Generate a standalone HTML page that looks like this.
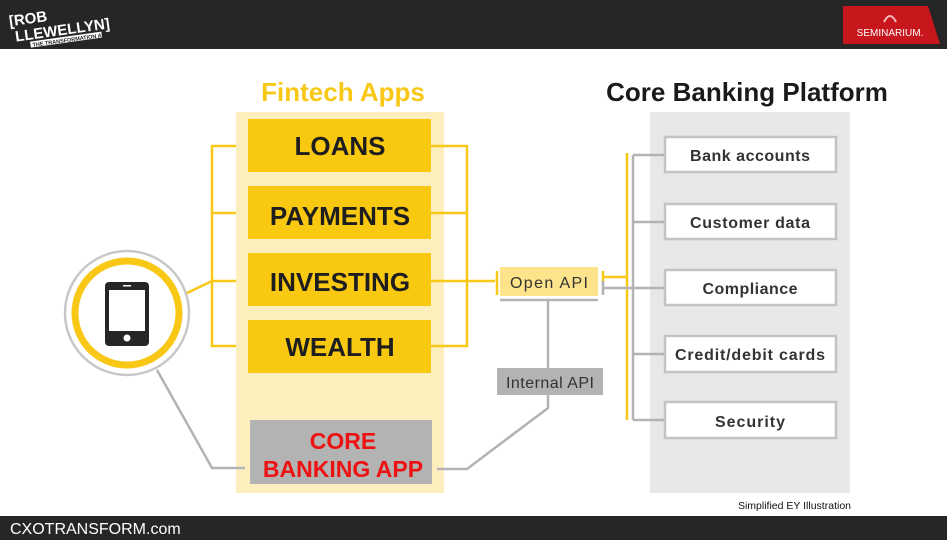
<!DOCTYPE html>
<html><head><meta charset="utf-8"><style>
html,body{margin:0;padding:0;background:#fff;}
body{width:947px;height:540px;overflow:hidden;position:relative;font-family:"Liberation Sans",sans-serif;}
</style></head><body>
<svg width="947" height="540" viewBox="0 0 947 540" xmlns="http://www.w3.org/2000/svg" style="position:absolute;left:0;top:0">
<rect x="0" y="0" width="947" height="49" fill="#262626"/>
<g transform="rotate(-8 55 25)" fill="#fff" font-family="Liberation Sans" font-weight="bold">
<text x="10" y="20" font-size="15">[ROB</text>
<text x="14" y="36" font-size="15">LLEWELLYN]</text>
<rect x="28" y="38" width="72" height="6" fill="#fff"/>
<text x="30" y="43.5" font-size="5.5" fill="#262626">THE TRANSFORMATION ADVISOR</text>
</g>
<polygon points="843,6 928,6 940,44 843,44" fill="#c8161d"/>
<path d="M884,22 Q890,10 896,22" stroke="#f3b8b8" stroke-width="2" fill="none"/>
<text x="890" y="36" font-size="10" fill="#fff" text-anchor="middle" font-family="Liberation Sans">SEMINARIUM.</text>

<text x="343" y="101" font-size="26" font-weight="bold" fill="#f9c817" text-anchor="middle">Fintech Apps</text>
<text x="747" y="101" font-size="26" font-weight="bold" fill="#1a1a1a" text-anchor="middle">Core Banking Platform</text>

<rect x="236" y="112" width="208" height="381" fill="#fdefbd"/>
<rect x="650" y="112" width="200" height="381" fill="#e8e8ea"/>

<g stroke="#f9c817" stroke-width="2.5" fill="none">
<path d="M236,146 H212 V346 H236 M212,213 H236 M212,281 H236 M212,281 L187,293"/>
<path d="M431,146 H467 V346 H431 M431,213 H467 M431,281 H495"/>
<path d="M497,271 V295 M603,271 V283 M603,277 H627 M627,153 V420"/>
</g>
<g stroke="#b3b3b3" stroke-width="2.5" fill="none">
<path d="M157,370 L212,468 H245"/>
<path d="M500,300 H598 M548,300 V370 M548,395 V408 L467,469 H437"/>
<path d="M603,281 V295 M603,288 H665 M633,155 V420 M633,155 H665 M633,222 H665 M633,354 H665 M633,420 H665"/>
</g>

<circle cx="127" cy="313" r="62" fill="#fff" stroke="#c8c8c8" stroke-width="2.5"/>
<circle cx="127" cy="313" r="52" fill="#fff" stroke="#f9c817" stroke-width="7"/>
<rect x="105" y="282" width="44" height="64" rx="4" fill="#262626"/>
<rect x="109" y="290" width="36" height="41" fill="#fff"/>
<circle cx="127" cy="338" r="3.5" fill="#fff"/>
<rect x="123" y="285" width="8" height="1.5" fill="#fff"/>

<g font-size="26" font-weight="bold" fill="#1e1e1e" text-anchor="middle">
<rect x="248" y="119" width="183" height="53" fill="#f9c810"/><text x="340" y="155">LOANS</text>
<rect x="248" y="186" width="183" height="53" fill="#f9c810"/><text x="340" y="225">PAYMENTS</text>
<rect x="248" y="253" width="183" height="53" fill="#f9c810"/><text x="340" y="291">INVESTING</text>
<rect x="248" y="320" width="183" height="53" fill="#f9c810"/><text x="340" y="356">WEALTH</text>
</g>
<rect x="250" y="420" width="182" height="64" fill="#b3b3b3"/>
<g font-size="23" font-weight="bold" fill="#ee1111" text-anchor="middle">
<text x="343" y="449">CORE</text><text x="343" y="477">BANKING APP</text>
</g>

<rect x="500" y="267" width="98" height="29" fill="#fde38a"/>
<text x="549" y="288" font-size="16" fill="#333" text-anchor="middle" textLength="78">Open API</text>
<rect x="497" y="368" width="106" height="27" fill="#b3b3b3"/>
<text x="550" y="388" font-size="16" fill="#333" text-anchor="middle" textLength="88">Internal API</text>

<g fill="#fff" stroke="#c3c3c3" stroke-width="2.5">
<rect x="665" y="137" width="171" height="35"/>
<rect x="665" y="204" width="171" height="35"/>
<rect x="665" y="270" width="171" height="35"/>
<rect x="665" y="336" width="171" height="36"/>
<rect x="665" y="402" width="171" height="36"/>
</g>
<g font-size="16" font-weight="bold" fill="#333" text-anchor="middle">
<text x="750" y="161" textLength="120">Bank accounts</text>
<text x="750" y="228" textLength="120">Customer data</text>
<text x="750" y="294" textLength="95">Compliance</text>
<text x="750" y="360" textLength="150">Credit/debit cards</text>
<text x="750" y="427" textLength="70">Security</text>
</g>

<text x="851" y="509" font-size="10.5" fill="#111" text-anchor="end">Simplified EY Illustration</text>
<rect x="0" y="516" width="947" height="24" fill="#262626"/>
<text x="10" y="534" font-size="16" fill="#fff">CXOTRANSFORM.com</text>
</svg>
</body></html>
